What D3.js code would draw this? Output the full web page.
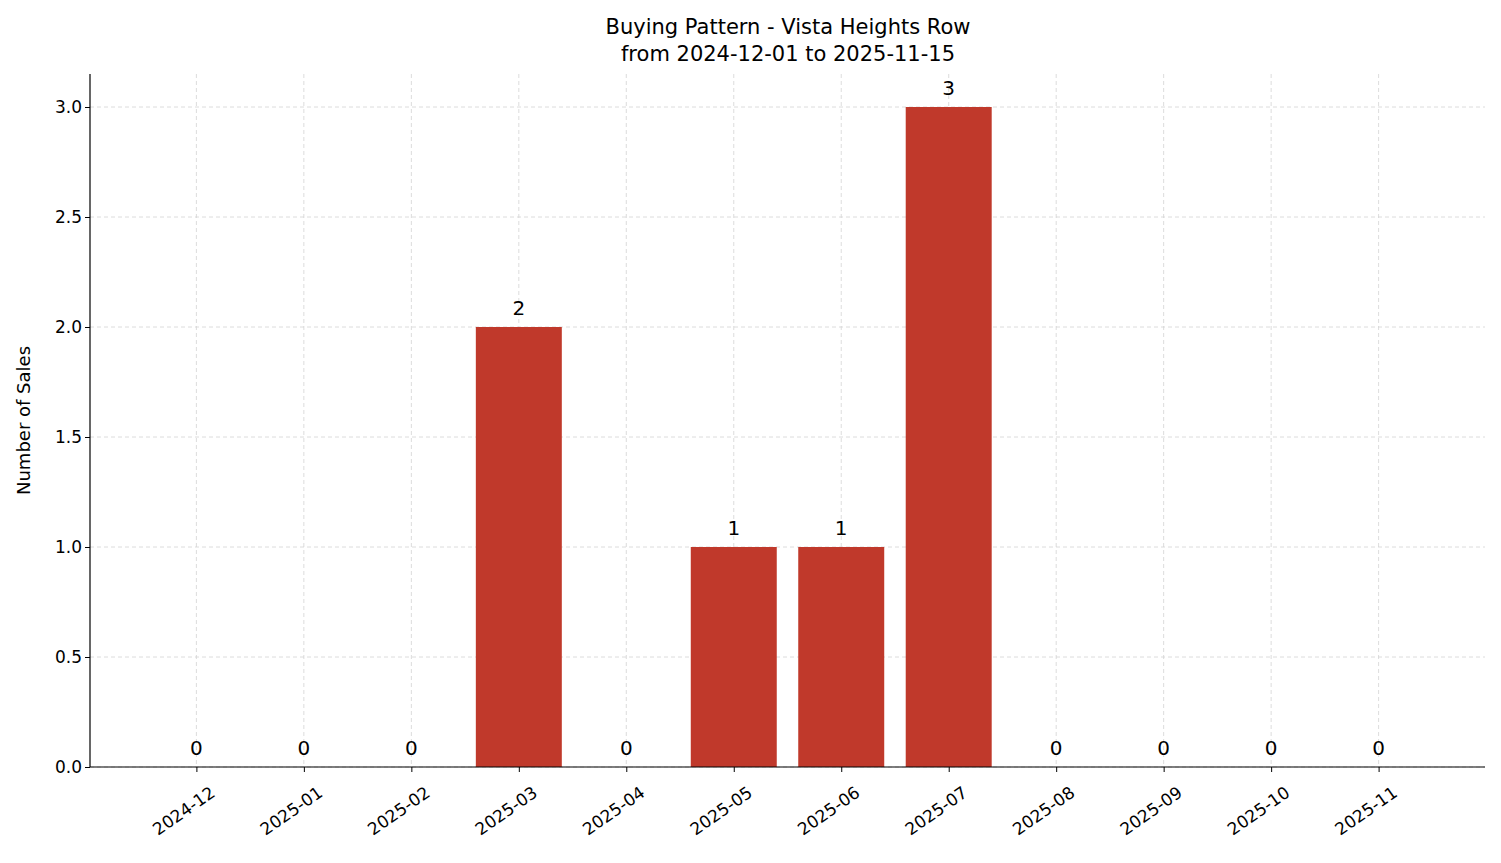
<!DOCTYPE html>
<html><head><meta charset="utf-8">
<script src="https://cdn.jsdelivr.net/npm/d3@7"></script>
<style>body{margin:0;background:#fff}text{font-family:"DejaVu Sans",sans-serif}</style>
</head><body><svg id="c" width="1501" height="863"></svg>
<script>
const months = ["2024-12","2025-01","2025-02","2025-03","2025-04","2025-05","2025-06","2025-07","2025-08","2025-09","2025-10","2025-11"];
const sales = [0,0,0,2,0,1,1,3,0,0,0,0];
const yTicks = [0,0.5,1.0,1.5,2.0,2.5,3.0];
const title1 = "Buying Pattern - Vista Heights Row";
const title2 = "from 2024-12-01 to 2025-11-15";

const svg = d3.select("#c");
const L=90,R=1485,T=74,B=767;
const x = d3.scaleLinear().domain([-0.99,11.99]).range([L,R]);
const y = d3.scaleLinear().domain([0,3.15]).range([B,T]);
const bw = x(0.8)-x(0);

const g = svg.append("g");
// grid
g.selectAll(".gy").data(yTicks).join("line").attr("x1",L).attr("x2",R).attr("y1",d=>y(d)).attr("y2",d=>y(d))
 .attr("stroke","#d3d3d3").attr("stroke-dasharray","4,3").attr("stroke-width",0.8);
g.selectAll(".gx").data(months).join("line").attr("x1",(d,i)=>x(i)).attr("x2",(d,i)=>x(i)).attr("y1",T).attr("y2",B)
 .attr("stroke","#d3d3d3").attr("stroke-dasharray","4,3").attr("stroke-width",0.8);
// bars
g.selectAll("rect").data(sales).join("rect").attr("x",(d,i)=>x(i)-bw/2).attr("width",bw)
 .attr("y",d=>y(d)).attr("height",d=>B-y(d)).attr("fill","#c0392b");
g.selectAll(".lab").data(sales).join("text").attr("x",(d,i)=>x(i)).attr("y",d=>y(d)-12)
 .attr("text-anchor","middle").attr("font-size",20).text(d=>d);
// axes
const ya = svg.append("g").attr("transform",`translate(${L},0)`).call(d3.axisLeft(y).tickValues(yTicks).tickFormat(d3.format(".1f")).tickSizeOuter(0).tickSize(5));
ya.selectAll("text").attr("font-size",17).attr("fill","#000");
ya.select(".domain").attr("d",`M0,${T}V${B}`);
const xa = svg.append("g").attr("transform",`translate(0,${B})`).call(d3.axisBottom(x).tickValues(d3.range(12)).tickFormat(i=>months[i]).tickSizeOuter(0).tickSize(5));
xa.select(".domain").attr("d",`M${L},0H${R}`);
xa.selectAll("text").attr("font-size",17).attr("fill","#000").attr("text-anchor","end")
 .attr("transform","translate(8,12) rotate(-35)").attr("dy","0.7em");
svg.selectAll(".domain").attr("stroke","#000").attr("stroke-width",1.2);
// titles
svg.append("text").attr("x",788).attr("y",34).attr("text-anchor","middle").attr("font-size",21).text(title1);
svg.append("text").attr("x",788).attr("y",61).attr("text-anchor","middle").attr("font-size",21).text(title2);
svg.append("text").attr("transform",`translate(30,${(T+B)/2}) rotate(-90)`).attr("text-anchor","middle").attr("font-size",18).text("Number of Sales");
</script></body></html>
